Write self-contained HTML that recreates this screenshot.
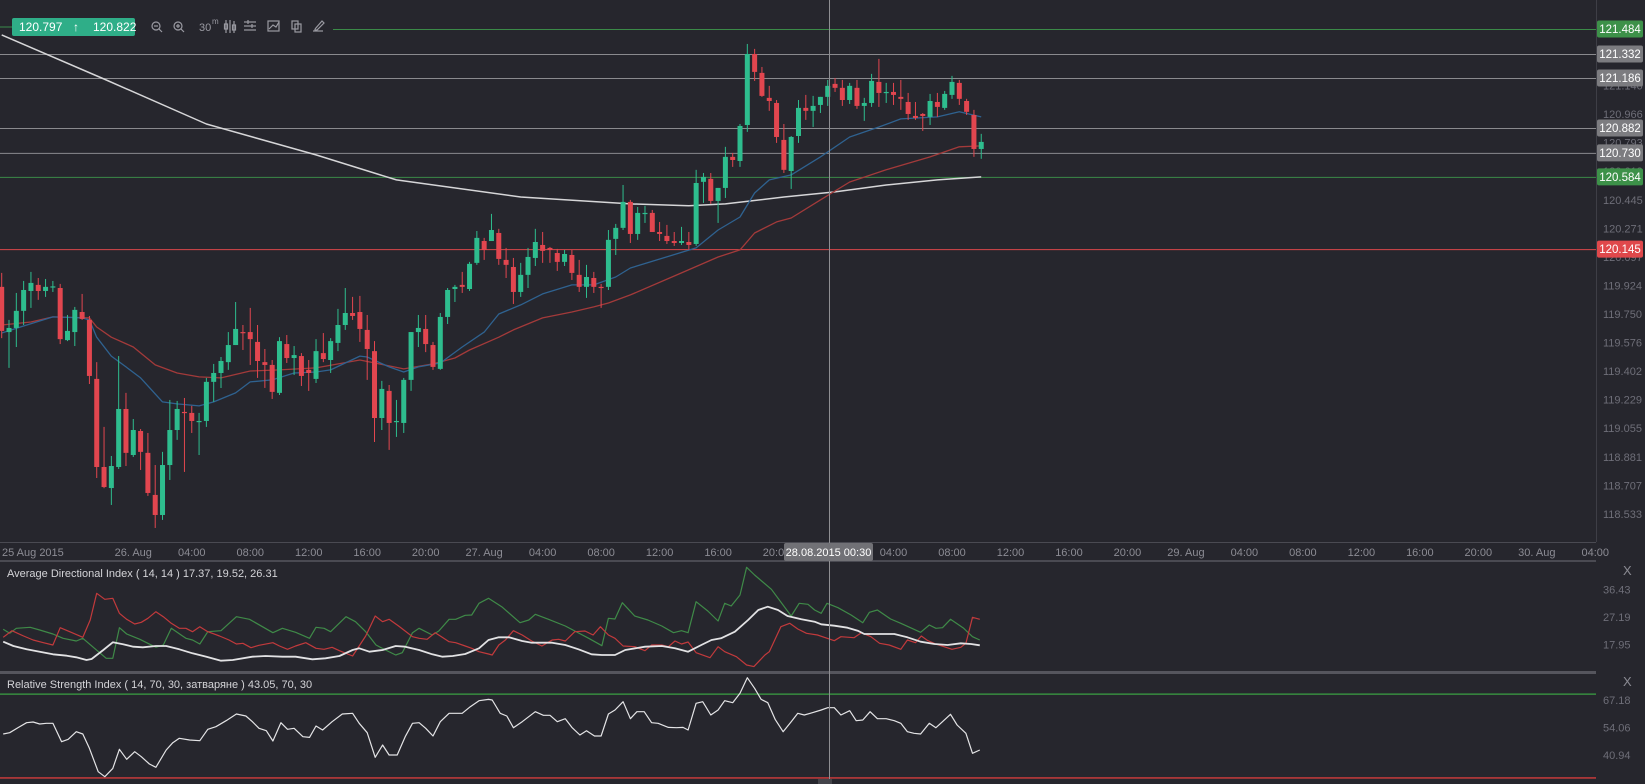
<!DOCTYPE html>
<html><head><meta charset="utf-8">
<style>
html,body{margin:0;padding:0;background:#26262d;overflow:hidden}
svg{display:block;font-family:"Liberation Sans",sans-serif}
</style></head>
<body>
<svg id="chart" width="1645" height="784" viewBox="0 0 1645 784" xmlns="http://www.w3.org/2000/svg">
<rect x="0" y="0" width="1645" height="784" fill="#26262d"/>
<defs><clipPath id="mainClip"><rect x="0" y="0" width="1596" height="542"/></clipPath>
<clipPath id="adxClip"><rect x="0" y="562" width="1596" height="110"/></clipPath>
<clipPath id="rsiClip"><rect x="0" y="675" width="1596" height="105"/></clipPath></defs>
<g id="levels"></g>
<g id="mas" clip-path="url(#mainClip)"></g>
<g id="candles" clip-path="url(#mainClip)"></g>
<line x1="1596.5" y1="0" x2="1596.5" y2="542" stroke="#3e3e46"/>
<g id="yticks"></g>
<g id="tags"></g>
<rect x="0" y="542" width="1645" height="19" fill="#26262d"/>
<line x1="0" y1="542.5" x2="1596" y2="542.5" stroke="#4a4a52"/>
<rect x="0" y="560" width="1596" height="2" fill="#4a4a52"/>
<g id="xticks"></g>
<rect x="0" y="671" width="1596" height="3" fill="#55555d"/>
<g id="adx"></g>
<g id="rsi"></g>
<text x="7" y="577" font-size="11" fill="#d4d4d8">Average Directional Index ( 14, 14 ) 17.37, 19.52, 26.31</text>
<text x="7" y="688" font-size="11" fill="#d4d4d8">Relative Strength Index ( 14, 70, 30, затваряне ) 43.05, 70, 30</text>
<text x="1623" y="575" font-size="13" fill="#8a8a92">X</text>
<text x="1623" y="686" font-size="13" fill="#8a8a92">X</text>
<line x1="829.5" y1="0" x2="829.5" y2="780" stroke="#8e8e92"/>
<rect x="784" y="543" width="89" height="18" rx="2" fill="#717176"/>
<text x="828.5" y="556" font-size="11" fill="#ffffff" text-anchor="middle">28.08.2015 00:30</text>
<rect x="818" y="779" width="14" height="5" fill="#44444a"/>
<g>
<line x1="0" y1="27" x2="12" y2="27" stroke="#3a8c4a"/>
<rect x="12" y="18" width="123" height="18" rx="2" fill="#2fae88"/>
<text x="19" y="31" font-size="12" fill="#ffffff">120.797</text>
<text x="73" y="31" font-size="12" fill="#ffffff" font-weight="bold">↑</text>
<text x="93" y="31" font-size="12" fill="#ffffff">120.822</text>
</g>
<g stroke="#9a9aa2" fill="none" stroke-width="1.2">
<g><circle cx="156" cy="26" r="4"/><line x1="159" y1="29" x2="162" y2="32"/><line x1="154" y1="26" x2="158" y2="26"/></g>
<g><circle cx="178" cy="26" r="4"/><line x1="181" y1="29" x2="184" y2="32"/><line x1="176" y1="26" x2="180" y2="26"/><line x1="178" y1="24" x2="178" y2="28"/></g>
<g><text x="199" y="31" font-size="11" fill="#9a9aa2" stroke="none">30</text><text x="212" y="24" font-size="8" fill="#9a9aa2" stroke="none">m</text></g>
<g><line x1="226" y1="20" x2="226" y2="33"/><line x1="230" y1="20" x2="230" y2="33"/><line x1="234" y1="21" x2="234" y2="33"/><rect x="224.5" y="24" width="3" height="5"/><rect x="232.5" y="25" width="3" height="5"/></g>
<g><line x1="244" y1="22" x2="256" y2="22"/><line x1="244" y1="26" x2="256" y2="26"/><line x1="244" y1="30" x2="256" y2="30"/><line x1="248" y1="20" x2="248" y2="24"/><line x1="252" y1="24" x2="252" y2="28"/></g>
<g><rect x="268" y="21" width="11" height="10"/><polyline points="269,29 273,25 276,27 279,22"/></g>
<g><rect x="292" y="21" width="6" height="8"/><rect x="295" y="24" width="6" height="8"/></g>
<g><line x1="313" y1="31" x2="323" y2="31"/><polyline points="315,29 322,21 324,23 317,30 315,30 315,29"/></g>
</g>
</svg>
<script>
// ---------------- DATA ----------------
const opens=[119.915,119.640,119.665,119.769,119.890,119.927,119.890,119.915,119.908,119.591,
119.640,119.762,119.714,119.355,118.819,118.691,118.819,119.172,118.892,119.038,
118.905,118.649,118.527,118.831,119.044,119.154,119.148,119.093,119.099,119.337,
119.391,119.457,119.561,119.640,119.640,119.580,119.457,119.440,119.270,119.567,
119.482,119.494,119.410,119.355,119.512,119.470,119.574,119.683,119.756,119.762,
119.653,119.524,119.117,119.282,119.093,119.087,119.349,119.640,119.659,119.561,
119.416,119.732,119.902,119.927,119.902,120.061,120.194,120.194,120.243,120.079,
120.036,119.884,119.988,120.091,120.170,120.152,120.121,120.067,120.109,119.988,
119.915,119.969,119.915,119.915,120.207,120.274,120.432,120.237,120.359,120.365,
120.249,120.225,120.194,120.182,120.188,120.176,120.554,120.572,120.438,120.517,
120.706,120.681,120.900,121.332,121.217,121.065,121.034,120.809,120.620,120.833,
121.004,120.986,121.022,121.071,121.150,121.126,121.052,121.126,121.016,121.034,
121.162,121.095,121.101,121.071,121.040,120.955,120.967,120.949,121.040,121.004,
121.083,121.156,121.046,120.961,120.754];
const highs=[120.000,119.714,119.878,119.951,120.006,119.969,119.963,119.951,119.933,119.744,
119.793,119.872,119.738,119.457,119.063,118.886,119.494,119.270,119.111,119.050,
119.026,118.831,118.911,119.227,119.221,119.239,119.191,119.148,119.361,119.446,
119.488,119.640,119.823,119.683,119.787,119.683,119.537,119.470,119.609,119.622,
119.555,119.512,119.470,119.597,119.634,119.603,119.781,119.908,119.854,119.860,
119.744,119.585,119.343,119.318,119.227,119.361,119.640,119.744,119.744,119.580,
119.756,119.908,119.927,120.006,120.067,120.255,120.213,120.359,120.268,120.152,
120.091,120.061,120.152,120.268,120.249,120.158,120.146,120.140,120.140,120.079,
120.049,120.006,119.933,120.261,120.298,120.535,120.444,120.401,120.408,120.383,
120.310,120.292,120.249,120.280,120.249,120.627,120.608,120.608,120.517,120.767,
120.730,120.906,121.393,121.363,121.253,121.138,121.052,120.906,120.833,121.052,
121.083,121.077,121.071,121.174,121.186,121.174,121.156,121.174,121.065,121.211,
121.302,121.156,121.156,121.174,121.095,121.040,120.973,121.089,121.095,121.107,
121.199,121.174,121.059,120.992,120.846];
const lows=[119.603,119.422,119.549,119.683,119.787,119.836,119.854,119.884,119.567,119.585,
119.555,119.714,119.324,118.752,118.690,118.588,118.807,118.825,118.880,118.801,
118.643,118.448,118.497,118.740,118.984,118.789,119.026,118.892,119.063,119.215,
119.300,119.410,119.561,119.531,119.440,119.361,119.300,119.233,119.257,119.452,
119.379,119.312,119.282,119.330,119.457,119.391,119.524,119.653,119.714,119.580,
119.349,118.971,119.044,118.923,119.002,119.026,119.282,119.549,119.518,119.410,
119.410,119.689,119.823,119.878,119.890,120.049,120.079,120.194,120.049,119.969,
119.811,119.854,119.908,120.042,120.061,120.061,120.012,120.042,119.957,119.884,
119.848,119.878,119.787,119.896,120.109,120.261,120.182,120.201,120.304,120.249,
120.194,120.176,120.164,120.170,120.140,120.164,120.426,120.420,120.304,120.456,
120.645,120.645,120.858,121.168,121.071,120.986,120.791,120.608,120.511,120.791,
120.931,120.888,120.973,121.016,121.101,121.016,121.028,120.998,120.925,121.010,
121.010,121.034,121.022,120.992,120.931,120.931,120.864,120.900,120.949,120.992,
121.059,121.022,120.961,120.706,120.694];
const closes=[119.647,119.665,119.769,119.896,119.939,119.890,119.915,119.918,119.597,119.647,
119.775,119.720,119.373,118.819,118.697,118.825,119.172,118.905,119.044,118.911,
118.661,118.527,118.831,119.044,119.172,119.148,119.099,119.099,119.337,119.391,
119.464,119.561,119.659,119.637,119.597,119.464,119.440,119.276,119.585,119.482,
119.500,119.373,119.391,119.524,119.476,119.585,119.683,119.756,119.738,119.659,
119.537,119.117,119.294,119.087,119.099,119.349,119.640,119.665,119.567,119.428,
119.732,119.896,119.915,119.915,120.055,120.213,120.140,120.261,120.085,120.049,
119.884,119.988,120.097,120.188,120.134,120.140,120.067,120.115,120.000,119.915,
119.975,119.915,119.910,120.201,120.274,120.432,120.237,120.365,120.365,120.249,
120.237,120.194,120.182,120.194,120.170,120.547,120.584,120.438,120.517,120.706,
120.687,120.894,121.332,121.223,121.077,121.046,120.827,120.627,120.827,121.004,
120.986,121.016,121.071,121.138,121.126,121.052,121.138,121.016,121.034,121.168,
121.095,121.101,121.083,121.059,120.967,120.943,120.955,121.046,121.010,121.089,
121.162,121.059,120.980,120.754,120.797];

const sma200Idx=[0,14,28,43,54,71,86,94,99,107,114,121,128,134];
const sma200Val=[121.448,121.180,120.906,120.718,120.566,120.462,120.420,120.408,120.420,120.462,120.493,120.535,120.566,120.584];
const emaFastIdx=[0,3,7,11,12,13,15,17,19,22,24,27,29,32,34,37,40,43,45,49,50,53,55,57,60,63,66,68,71,74,78,81,84,86,95,98,101,103,105,108,112,116,120,123,128,131,134];
const emaFastVal=[119.634,119.677,119.732,119.726,119.714,119.609,119.494,119.428,119.361,119.215,119.203,119.191,119.215,119.270,119.337,119.349,119.391,119.397,119.410,119.494,119.488,119.428,119.397,119.428,119.452,119.549,119.640,119.750,119.805,119.872,119.927,119.927,119.975,120.030,120.152,120.261,120.340,120.486,120.566,120.596,120.706,120.827,120.888,120.937,120.949,120.980,120.949];
const emaSlowIdx=[0,4,7,12,13,15,18,21,24,27,30,34,38,43,49,53,55,59,62,64,68,70,74,78,81,83,86,93,98,101,103,106,108,112,116,121,127,131,134];
const emaSlowVal=[119.683,119.701,119.732,119.726,119.671,119.609,119.549,119.440,119.391,119.367,119.361,119.403,119.410,119.422,119.470,119.434,119.416,119.446,119.482,119.531,119.609,119.653,119.726,119.762,119.793,119.817,119.866,120.000,120.097,120.140,120.243,120.310,120.334,120.444,120.553,120.627,120.706,120.767,120.773];

const levelVals=[121.484,121.332,121.186,120.882,120.730,120.584,120.145];
const levelKinds=['green','gray','gray','gray','gray','green','red'];
const levelStart=[333,0,0,0,0,0,0];
const priceTicks=[121.313,121.140,120.966,120.793,120.619,120.445,120.271,120.097,119.924,119.750,119.576,119.402,119.229,119.055,118.881,118.707,118.533];

const timeLabels=['26. Aug','04:00','08:00','12:00','16:00','20:00','27. Aug','04:00','08:00','12:00','16:00','20:00','28. Aug','04:00','08:00','12:00','16:00','20:00','29. Aug','04:00','08:00','12:00','16:00','20:00','30. Aug','04:00'];
const timeLabelIdx=[18,26,34,42,50,58,66,74,82,90,98,106,114,122,130,138,146,154,162,170,178,186,194,202,210,218];

const plusDiIdx=[0.2,1.1,2.0,3.9,5.2,7.0,8.4,10.2,11.1,14.3,15.2,16.1,17.1,18.9,21.1,22.1,23.2,25.2,26.1,27.1,28.2,30.0,32.1,33.9,37.1,38.4,40.2,42.1,43.0,44.1,45.0,47.1,48.4,49.8,51.2,52.5,53.9,54.8,56.2,57.1,58.9,59.8,61.2,62.1,63.4,64.3,65.3,
66.6,68.4,70.9,72.1,73,74.8,77.1,80.3,82.1,83,83.9,84.9,86.6,88.4,90.3,91.9,93,93.9,95,96.6,98,98.9,99.8,101,101.9,103,105.3,108,109.1,110.3,111.2,112.1,112.9,114.4,116.2,117.8,118.7,119.8,121.6,123,125.7,126.9,127.8,128.7,129.8,131.6,132.8,133.8];
const plusDiVal=[22.98,21.64,23.32,23.65,22.76,21.41,19.96,19.06,19.96,13.24,13.24,23.54,21.41,19.62,16.93,17.72,23.32,19.96,19.40,18.05,22.20,22.53,27.24,26.34,21.86,23.32,21.97,19.96,23.65,23.32,22.20,27.24,25.56,22.20,17.72,16.04,14.36,15.14,21.86,23.32,21.08,22.42,26.34,26.34,27.69,27.80,31.72,
33.40,30.60,25.22,26.12,28.02,26.34,24.10,19.96,17.49,26.68,26.45,31.94,27.46,26.12,24.10,21.86,22.53,21.86,32.28,29.14,25.78,31.72,30.82,34.52,43.82,41.24,36.42,27.46,31.72,31.38,29.48,28.36,31.72,30.26,27.80,25.22,28.70,29.48,26.45,25.00,21.97,24.44,23.32,23.54,26.34,23.32,20.52,19.40];
const minusDiIdx=[0.2,1.4,3,4.3,5.7,7,8,9.3,11.1,12.1,13,14.1,15.2,16.1,17.1,18.2,19.1,20,21.1,22.1,23.2,24.3,25.2,26.1,27.1,28.2,29.8,31.1,32.1,33,34.1,35.2,37.1,38,39.1,40.2,41.6,43,44.1,45.2,46.2,48,49.8,51.1,52.1,53,54.3,56.2,57.1,58.2,59.3,61.2,62.1,63.4,64.3,65.3,
66.6,67.1,68,68.9,70,71.2,72.5,73.9,75.3,76.2,77.1,78.4,79.8,80.9,81.9,83,83.9,85,86.6,88,88.9,90.3,91.2,92.1,93,93.9,95,96.9,98,98.9,100.5,101.9,102.9,104.4,105,106.6,107.8,108.9,110.1,111.6,113.9,114.8,116.6,117.6,118.9,120.1,121.4,123,123.9,125,125.8,126.7,127.8,128.9,130,131.2,131.9,132.8,133.8];
const minusDiVal=[20.29,22.53,20.74,19.40,18.50,17.72,23.54,22.20,20.29,26.12,35.08,33.06,33.40,28.36,26.34,24.77,25.33,26.68,28.92,27.24,25.00,23.32,23.32,22.20,23.88,22.20,20.74,19.40,18.05,18.28,16.82,17.61,18.50,17.38,16.26,17.38,18.50,16.60,16.26,16.93,15.81,14.02,20.74,27.46,25.56,26.34,24.10,20.52,19.96,19.62,21.86,18.84,18.50,17.38,16.60,15.48,
14.69,14.36,17.72,19.40,22.53,21.08,19.06,17.38,19.40,19.62,19.06,22.20,22.42,21.08,23.88,21.08,19.96,17.38,17.16,15.81,17.72,17.72,17.16,19.06,18.05,18.73,15.14,13.46,17.16,15.48,13.80,11.00,10.44,14.36,15.48,23.88,25.00,23.10,21.64,21.08,19.17,20.52,20.18,21.86,20.52,18.28,17.72,16.26,19.40,18.50,20.74,19.17,18.05,17.16,16.26,16.93,18.28,27.01,26.34];
const adxIdx=[0.2,1.6,3.4,5.2,7,8.9,10.2,11.6,12.3,13.9,15.2,16.6,18,19.3,21.1,22.5,24.3,26.1,28,30,31.6,34.3,36.1,38.4,40.2,42.5,44.3,46.2,48,48.9,50.3,52.1,53.9,55.2,57.1,58.9,60.3,61.7,63.4,65.3,
66.6,68,69.4,71.2,72.5,75.3,77.1,78.9,80.7,82.1,83.9,85.3,88,90.3,92.1,93.9,95.7,97.1,98.4,100.3,102.1,103.5,104.8,106.2,107.5,109.4,111.2,112.1,113.9,115.7,117.1,118,120.3,122.1,123.9,125.7,127.6,129.4,131.2,132.6,133.8];
const adxVal=[18.84,17.38,16.26,15.48,14.58,14.13,13.57,12.68,13.01,16.04,18.61,17.94,17.16,16.93,17.38,17.38,16.26,14.92,13.80,12.45,12.68,13.80,14.02,13.80,13.80,12.90,13.24,14.02,16.04,16.60,15.48,16.04,17.38,17.16,16.04,14.58,13.80,14.02,14.69,16.60,
19.40,20.29,20.29,19.06,18.50,18.50,17.72,16.26,14.58,14.36,14.36,16.04,17.16,17.38,16.60,15.48,17.72,19.40,19.96,22.20,26.12,29.48,30.60,29.48,27.46,26.34,25.56,24.66,24.21,23.54,22.53,21.41,21.41,21.41,20.29,18.84,18.05,17.72,18.28,18.05,17.61];
const adxTicks=[36.43,27.19,17.95];

const rsiIdx=[0.2,1.1,2.3,3.4,4.3,5.2,6.1,7.0,8.2,9.1,10.2,11.1,12.0,13.2,14.1,15.2,16.1,17.1,18.2,19.1,20.2,21.1,22.5,23.4,24.3,25.7,27.1,28.2,29.3,30.7,32.1,33.4,34.3,35.2,36.2,37.1,38.2,39.1,40.0,41.2,42.1,43.0,43.9,45.2,46.6,48.0,48.9,50.0,51.1,52.1,53.0,54.1,55.2,56.2,57.1,58.0,59.0,60.0,61.2,63.0,64.1,65.3,
66.6,67.1,68.2,69.1,70.0,71.2,73.0,74.1,75.0,76.0,77.1,78.0,79.1,80.0,81.1,82.0,83.0,83.9,85.0,86.0,86.9,87.9,88.9,89.8,91.2,92.3,93.2,93.9,95.0,95.9,97.0,98.0,98.9,100.0,101.0,102.0,103.0,103.9,104.8,105.8,106.9,108.0,108.9,109.8,110.9,112.1,113.0,113.9,114.8,116.0,116.9,117.8,118.8,119.8,121.0,122.1,123.0,123.9,124.8,125.7,126.9,127.8,128.7,129.8,130.7,131.9,132.8,133.8];
const rsiVal=[50.95,51.59,54.13,56.36,56.68,55.73,56.04,56.04,47.30,48.41,52.07,50.95,44.12,32.98,30.60,34.57,43.64,38.87,42.53,40.14,36.64,35.05,43.32,46.82,48.89,48.09,47.77,53.18,54.45,57.32,60.50,59.54,56.84,53.66,52.55,47.61,56.36,53.18,53.66,49.68,49.36,54.77,52.86,56.84,60.50,60.82,56.04,51.59,39.82,45.71,40.94,40.94,49.68,56.04,56.36,53.66,50.00,56.84,60.82,60.82,63.99,66.86,
67.49,67.18,60.82,59.54,53.98,56.84,61.61,59.86,59.86,56.84,58.27,54.13,50.48,52.55,50.00,50.00,60.50,62.41,66.38,58.27,61.61,61.61,56.36,56.04,54.13,53.98,54.13,52.86,65.59,66.38,60.02,62.41,66.86,65.90,70.36,77.83,72.74,67.49,65.90,57.95,52.07,56.84,60.82,60.02,61.13,62.41,63.52,63.52,60.02,62.09,57.32,57.64,61.61,58.27,58.27,57.32,56.04,52.07,51.27,50.95,56.04,53.98,56.84,60.34,55.25,51.27,41.73,43.32];
const rsiTicks=[67.18,54.06,40.94];
const rsiLevels=[70,30];

// ---------------- SCALES ----------------
const NS='http://www.w3.org/2000/svg';
const xC=i=>1.7+7.31*i;
const yP=p=>29+(121.484-p)*164.35;
const yA=v=>644.3-(v-17.95)*2.976;
const yR=v=>700-(v-67.18)*2.096;
function mk(tag,attrs,parent){const e=document.createElementNS(NS,tag);for(const k in attrs)e.setAttribute(k,attrs[k]);parent.appendChild(e);return e;}
const $=id=>document.getElementById(id);

// levels
const lvColor={green:'#3b8a48',gray:'#8a8a8e',red:'#d8474a'};
const tagColor={green:'#3d9149',gray:'#7c7c80',red:'#e0484b'};
levelVals.forEach((v,k)=>{
  const l=mk('line',{x1:levelStart[k],x2:1596,y1:yP(v)+0.5,y2:yP(v)+0.5,stroke:lvColor[levelKinds[k]],'stroke-width':1},$('levels'));
  
  
});
// price ticks
priceTicks.forEach(v=>{
  const t=mk('text',{x:1603,y:yP(v)+4,'font-size':11,fill:'#6e6e78'},$('yticks'));
  t.textContent=v.toFixed(3);
  
  
});
levelVals.forEach((v,k)=>{
  const g=mk('g',{},$('tags'));
  
  
  mk('rect',{x:1597,y:yP(v)-8.5,width:46,height:17,rx:2,fill:tagColor[levelKinds[k]]},g);
  const t=mk('text',{x:1620,y:yP(v)+4,'font-size':11.5,fill:'#ffffff','text-anchor':'middle'},g);
  t.textContent=v.toFixed(3);
});
// moving averages
function poly(idx,val,yf,parent,color,w,name){
  const pts=idx.map((i,k)=>xC(i).toFixed(1)+','+yf(val[k]).toFixed(1)).join(' ');
  const p=mk('polyline',{points:pts,fill:'none',stroke:color,'stroke-width':w,'stroke-linejoin':'round'},parent);
  
  
  return p;
}
poly(sma200Idx,sma200Val,yP,$('mas'),'#d6d6d8',1.5,'sma-200-line');
poly(emaSlowIdx,emaSlowVal,yP,$('mas'),'#a33a3a',1.3,'slow-ma-line');
poly(emaFastIdx,emaFastVal,yP,$('mas'),'#2f6290',1.3,'fast-ma-line');
// candles
closes.forEach((c,i)=>{
  const o=opens[i],up=c>=o,col=up?'#2ebd8e':'#e2464f';
  const g=mk('g',{},$('candles'));
  
  
  const x=xC(i);
  mk('line',{x1:x,x2:x,y1:yP(highs[i]),y2:yP(lows[i]),stroke:col,'stroke-width':1},g);
  const top=yP(Math.max(o,c)),h=Math.max(1.2,Math.abs(yP(o)-yP(c)));
  mk('rect',{x:x-2.5,y:top,width:5,height:h,fill:col},g);
});
// time labels
const t0=mk('text',{x:2,y:556,'font-size':11,fill:'#8c8c94'},$('xticks'));
t0.textContent='25 Aug 2015';


timeLabels.forEach((s,k)=>{
  const t=mk('text',{x:xC(timeLabelIdx[k]),y:556,'font-size':11,fill:'#8c8c94','text-anchor':'middle'},$('xticks'));
  t.textContent=s;
  
  
});
// ADX panel
const adxG=mk('g',{'clip-path':'url(#adxClip)'},$('adx'));
poly(plusDiIdx,plusDiVal,yA,adxG,'#3f8a48',1.2,'plus-di-line');
poly(minusDiIdx,minusDiVal,yA,adxG,'#c23a3c',1.2,'minus-di-line');
poly(adxIdx,adxVal,yA,adxG,'#e2e2e4',1.8,'adx-line');
adxTicks.forEach(v=>{
  const t=mk('text',{x:1603,y:yA(v)+4,'font-size':11,fill:'#6e6e78'},$('adx'));
  t.textContent=v.toFixed(2);
  
  
});
// RSI panel
const rsiCol=['#3aa043','#d43c3c'];
rsiLevels.forEach((v,k)=>{
  const l=mk('line',{x1:0,x2:1596,y1:yR(v),y2:yR(v),stroke:rsiCol[k],'stroke-width':1.3},$('rsi'));
  
  
});
const rsiG=mk('g',{'clip-path':'url(#rsiClip)'},$('rsi'));
poly(rsiIdx,rsiVal,yR,rsiG,'#e4e4e6',1.2,'rsi-line');
rsiTicks.forEach(v=>{
  const t=mk('text',{x:1603,y:yR(v)+4,'font-size':11,fill:'#6e6e78'},$('rsi'));
  t.textContent=v.toFixed(2);
  
  
});
</script>
</body></html>
